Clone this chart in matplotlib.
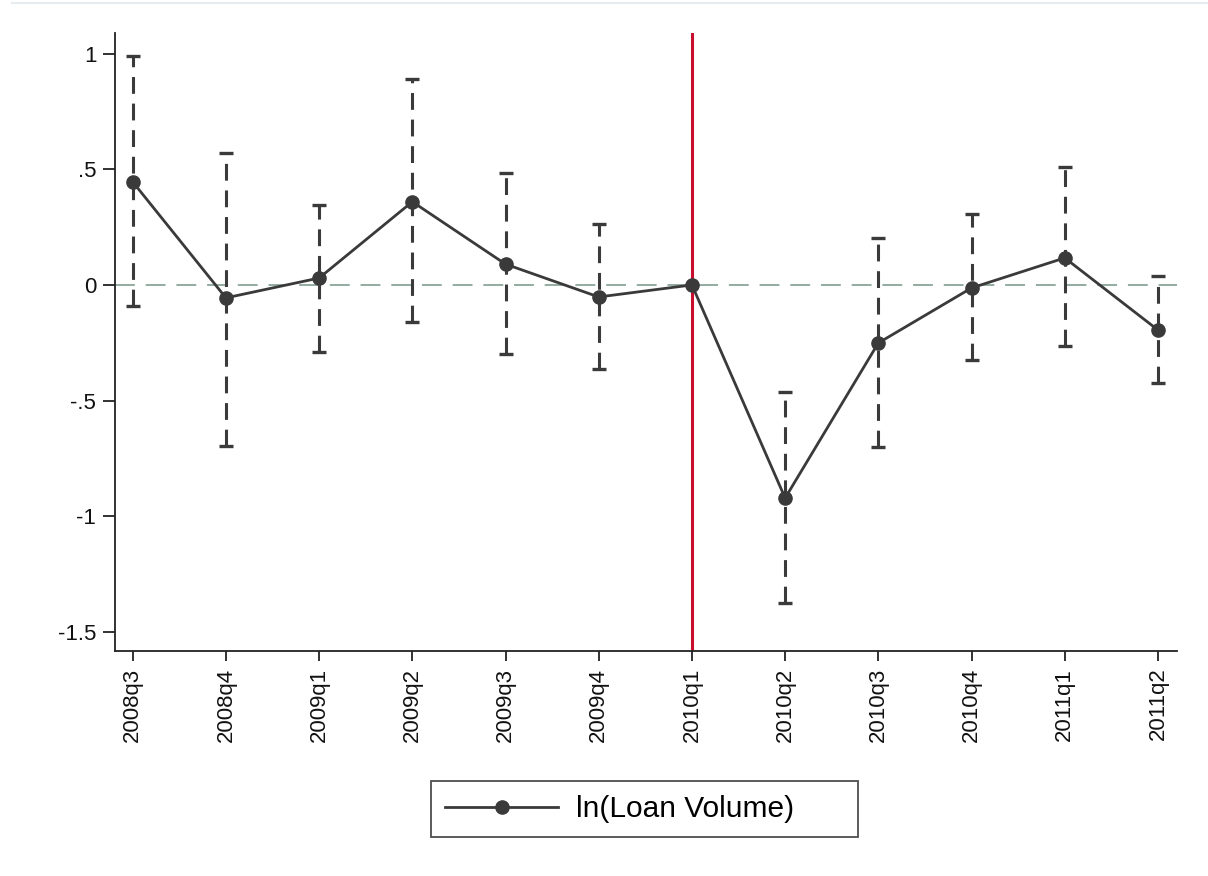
import matplotlib
matplotlib.use("Agg")
import matplotlib.pyplot as plt
from matplotlib.lines import Line2D

# ---------- данные ----------
quarters = ["2008q3", "2008q4", "2009q1", "2009q2", "2009q3", "2009q4",
            "2010q1", "2010q2", "2010q3", "2010q4", "2011q1", "2011q2"]
coef = [0.446, -0.056, 0.030, 0.360, 0.090, -0.052,
        0.000, -0.922, -0.251, -0.013, 0.117, -0.195]
ci_hi = [0.99, 0.571, 0.346, 0.89, 0.485, 0.264,
         None, -0.463, 0.203, 0.307, 0.511, 0.039]
ci_lo = [-0.09, -0.697, -0.29, -0.16, -0.30, -0.364,
         None, -1.377, -0.70, -0.325, -0.264, -0.424]
yticks = [1, 0.5, 0, -0.5, -1, -1.5]
ytick_labels = ["1", ".5", "0", "-.5", "-1", "-1.5"]
event_idx = 6

plt.rcParams["font.family"] = ["Liberation Sans", "DejaVu Sans"]

DARK = "#3a3a3a"
fig = plt.figure(figsize=(12.08, 8.76), dpi=100)
ax = fig.add_axes([0.0952, 0.2568, 0.8788, 0.7055])

x = list(range(len(quarters)))

# доверительные интервалы: пунктирные линии + сплошные «шапки»
xe = [i for i in x if ci_hi[i] is not None]
hi = [ci_hi[i] for i in xe]
lo = [ci_lo[i] for i in xe]
ax.vlines(xe, lo, hi, colors=DARK, linewidth=2.2,
          linestyles=[(0, (5.5, 3.2))], zorder=2)
ax.plot(xe, hi, linestyle="none", marker="_", markersize=10,
        markeredgewidth=2.4, color=DARK, zorder=2)
ax.plot(xe, lo, linestyle="none", marker="_", markersize=10,
        markeredgewidth=2.4, color=DARK, zorder=2)

# нулевая линия и вертикальная линия события
ax.axhline(0, color="#8aa698", linewidth=1.3, linestyle=(0, (11, 6)), zorder=1)
ax.axvline(event_idx, color="#c8102e", linewidth=2.2, zorder=1)

# оценки коэффициентов
ax.plot(x, coef, color=DARK, linewidth=2.0, marker="o", markersize=9.5,
        zorder=3)

ax.set_xlim(-0.19, len(quarters) - 1 + 0.2)
ax.set_ylim(-1.584, 1.09)
ax.set_xticks(x)
ax.set_xticklabels(quarters, rotation=90, fontsize=16)
ax.set_yticks(yticks)
ax.set_yticklabels(ytick_labels, fontsize=16)
ax.tick_params(axis="y", length=9, width=1.3, color="#222222",
               labelcolor="#111111", pad=4.5)
ax.tick_params(axis="x", length=7, width=1.3, color="#222222",
               labelcolor="#111111", pad=5)
for side in ("top", "right"):
    ax.spines[side].set_visible(False)
for side in ("left", "bottom"):
    ax.spines[side].set_linewidth(1.3)
    ax.spines[side].set_color("#222222")

handle = Line2D([], [], color=DARK, linewidth=2.0, marker="o", markersize=9.5)
leg = fig.legend([handle], ["ln(Loan Volume)      "], loc="center",
                 bbox_to_anchor=(0.5335, 0.0765), frameon=True, fancybox=False,
                 fontsize=21.5, handlelength=3.8, borderpad=0.48,
                 handletextpad=0.6, borderaxespad=0)
leg.get_frame().set_edgecolor("#222222")
leg.get_frame().set_linewidth(1.3)

# тонкая рамка сверху, как на исходнике
fig.add_artist(Line2D([0.01, 1.0], [0.997, 0.997], color="#e6ecef",
                      linewidth=1.5, transform=fig.transFigure))

fig.savefig("out.png", dpi=100)
